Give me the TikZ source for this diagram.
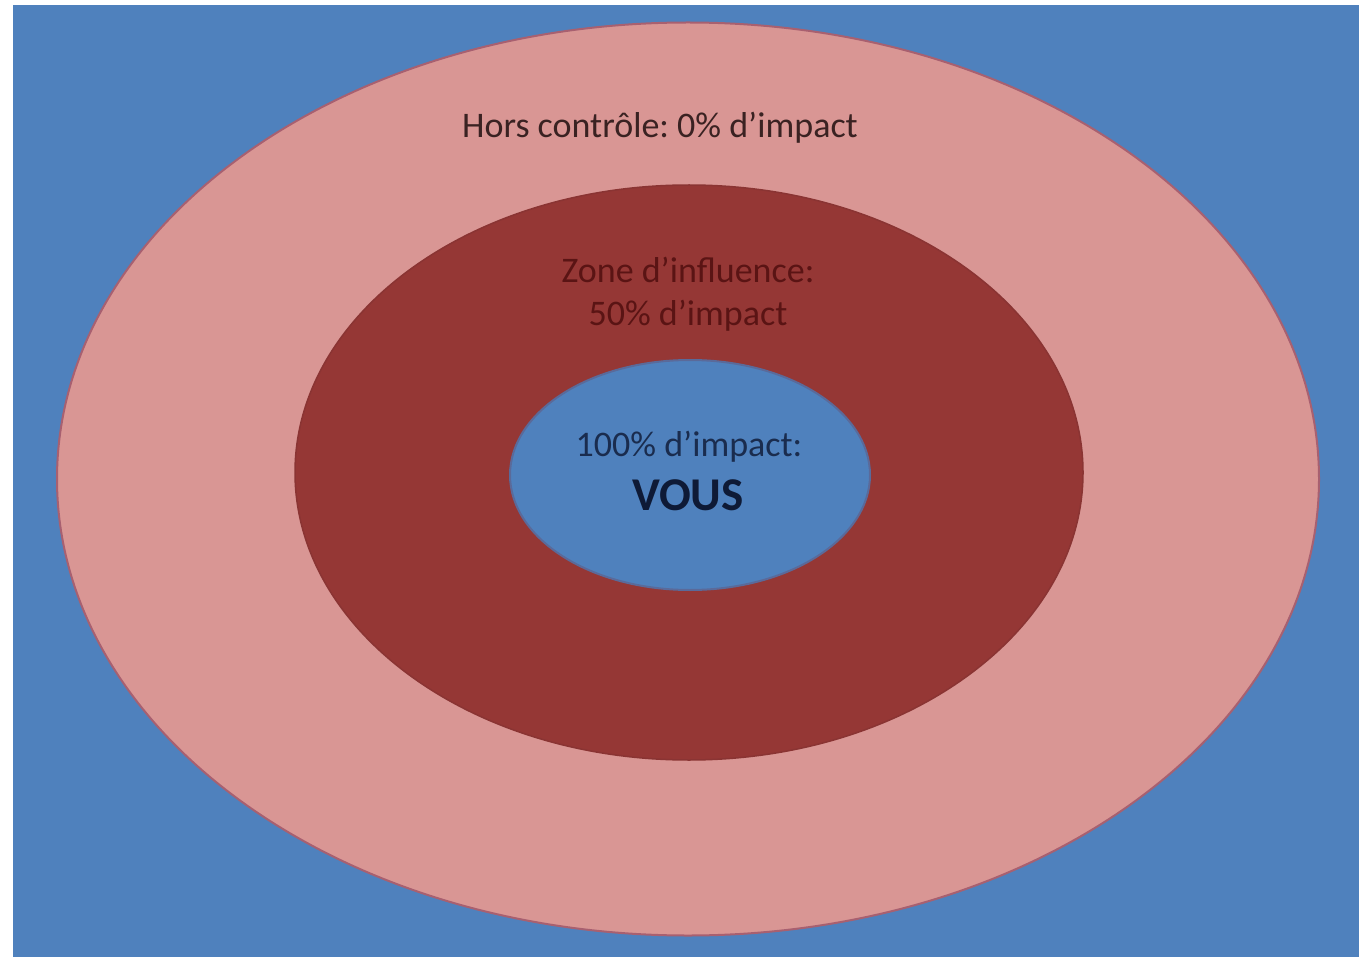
\documentclass[tikz,border=0pt]{standalone}
\usepackage{fontspec}
\setmainfont{Carlito}
\usetikzlibrary{shapes.geometric}
\definecolor{bgblue}{HTML}{4F81BD}
\definecolor{pinkfill}{HTML}{D99694}
\definecolor{pinkline}{HTML}{A86070}
\definecolor{redfill}{HTML}{953735}
\definecolor{redline}{HTML}{8A3433}
\definecolor{blueline}{HTML}{5A6A9A}
\definecolor{txtdark}{HTML}{3A2222}
\definecolor{txtred}{HTML}{5A1414}
\definecolor{txtblue}{HTML}{1A2C4E}
\definecolor{txtvous}{HTML}{0E1A36}
\tikzset{
  ring/.style={ellipse, inner sep=0pt, outer sep=0pt},
  lbl/.style={anchor=base, inner sep=0pt, font=\fontsize{36}{43}\selectfont}
}
\frenchspacing
\begin{document}
\begin{tikzpicture}[x=1pt,y=-1pt]
\useasboundingbox (0,0) rectangle (1359,957);
\fill[white] (0,0) rectangle (1359,957);
\fill[bgblue] (13,5) rectangle (1359,957);
\node[ring, fill=pinkfill, draw=pinkline, line width=2pt, minimum width=1262pt, minimum height=913pt] (outer) at (688,479) {};
\node[ring, fill=redfill, draw=redline, line width=1.5pt, minimum width=788pt, minimum height=575pt] (middle) at (689,472.5) {};
\node[ring, fill=bgblue, draw=blueline, line width=2pt, minimum width=360pt, minimum height=230pt] (inner) at (690,475) {};
\node[lbl, text=txtdark] (hors) at (660,138) {\frenchspacing Hors contrôle: 0\% d’impact};
\node[lbl, text=txtred] (zone) at (688,283) {Zone d’influence:};
\node[lbl, text=txtred] (cinquante) at (688,326) {50\% d’impact};
\node[lbl, text=txtblue] (cent) at (689,456) {100\% d’impact:};
\node[lbl, text=txtvous, font=\fontsize{47}{56}\selectfont\bfseries] (vous) at (688,510) {VOUS};
\end{tikzpicture}
\end{document}
